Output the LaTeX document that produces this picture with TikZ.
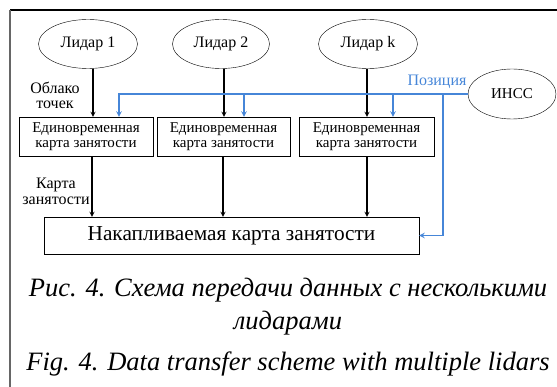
\documentclass[tikz,border=0pt]{standalone}
\usepackage{fontspec}
\setmainfont{Liberation Serif}
\usetikzlibrary{shapes.geometric}
\definecolor{posblue}{RGB}{70,134,216}
\tikzset{
  lidar/.style={draw, ellipse, minimum width=99pt, minimum height=49pt, inner sep=0pt, font=\fontsize{16}{18}\selectfont},
  mapbox/.style={draw, minimum width=134pt, minimum height=39pt, inner sep=0pt, align=center, font=\fontsize{15}{15.5}\selectfont},
  flow/.style={->, line width=1.2pt},
  posline/.style={->, draw=posblue, line width=1.4pt},
  lbl/.style={align=center, font=\fontsize{16}{15.5}\selectfont}
}
\begin{document}
\begin{tikzpicture}[x=1pt, y=-1pt, >=stealth]
  \useasboundingbox (0,0) rectangle (557,387);
  % frame
  \draw[line width=1.2pt] (10,10) -- (557,10);
  \draw[line width=1.6pt, black!60] (10,10) -- (10,387);

  % sensors
  \node[lidar] (l1) at (88,44) {Лидар 1};
  \node[lidar, minimum width=97pt] (l2) at (221,44) {Лидар 2};
  \node[lidar] (lk) at (368,44) {Лидар k};
  \node[lidar, minimum width=88pt, minimum height=50pt, font=\fontsize{15}{17}\selectfont] (ins) at (512,94) {ИНСС};

  % per-lidar maps
  \node[mapbox] (b1) at (86,136.5) {Единовременная\\карта занятости};
  \node[mapbox, minimum width=133pt] (b2) at (223.5,136.5) {Единовременная\\карта занятости};
  \node[mapbox, minimum width=135pt] (bk) at (366.5,136.5) {Единовременная\\карта занятости};
  \node[draw, minimum width=375pt, minimum height=37pt, font=\fontsize{21.3}{23}\selectfont] (acc) at (231.5,235.5) {Накапливаемая карта занятости};

  % point clouds and maps
  \draw[flow] ([xshift=5pt]l1.south) -- ([xshift=5pt]l1.south |- b1.north);
  \draw[flow] ([xshift=3pt]l2.south) -- ([xshift=3pt]l2.south |- b2.north);
  \draw[flow] ([xshift=-1pt]lk.south) -- ([xshift=-1pt]lk.south |- bk.north);
  \draw[flow] ([xshift=6pt]b1.south) -- ([xshift=6pt]b1.south |- acc.north);
  \draw[flow] ([xshift=-0.5pt]b2.south) -- ([xshift=-0.5pt]b2.south |- acc.north);
  \draw[flow] ([xshift=0.5pt]bk.south) -- ([xshift=0.5pt]bk.south |- acc.north);

  % position from the INS
  \coordinate (tap) at (443,94);
  \draw[posline] (ins.west) -- ([xshift=33pt]b1.north |- ins.west) -- ([xshift=33pt]b1.north);
  \draw[posline] ([xshift=20.5pt]b2.north |- ins.west) -- ([xshift=20.5pt]b2.north);
  \draw[posline] ([xshift=26.5pt]bk.north |- ins.west) -- ([xshift=26.5pt]bk.north);
  \draw[posline] (tap) |- (acc.east);

  % labels
  \node[lbl] (cloud) at (55,95.5) {Облако\\точек};
  \node[lbl] (occ) at (56,191.5) {Карта\\занятости};
  \node[font=\fontsize{16}{18}\selectfont, text=posblue] (pos) at (437,82) {Позиция};

  % caption
  \node[align=center, font=\fontsize{26.5}{33}\selectfont\itshape] (capru) at (288,307) {Рис. 4. Схема передачи данных с несколькими\\лидарами};
  \node[font=\fontsize{26.5}{30}\selectfont\itshape] (capen) at (288,364) {Fig. 4. Data transfer scheme with multiple lidars};
\end{tikzpicture}
\end{document}
